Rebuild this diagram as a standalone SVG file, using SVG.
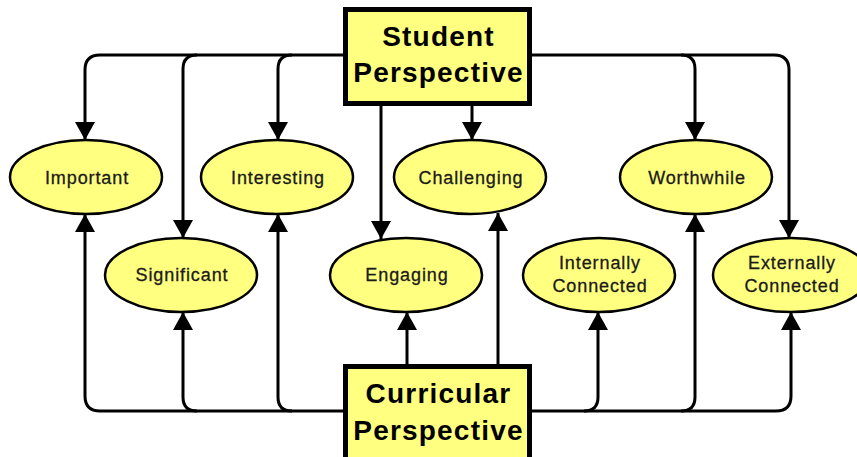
<svg xmlns="http://www.w3.org/2000/svg" width="857" height="457" viewBox="0 0 857 457">
<style>
.box{fill:#ffff80;stroke:#000;stroke-width:5}
.ell{fill:#ffff80;stroke:#000;stroke-width:2.5}
.title{font-family:"Liberation Sans",Arial,sans-serif;font-weight:bold;font-size:28px;letter-spacing:1.2px;fill:#000;text-anchor:middle}
.lbl{font-family:"Liberation Sans",Arial,sans-serif;font-size:18px;letter-spacing:0.9px;fill:#1a1a1a;text-anchor:middle;stroke:#1a1a1a;stroke-width:0.3}
.con{fill:none;stroke:#000;stroke-width:3;marker-end:url(#arr)}
.plain{fill:none;stroke:#000;stroke-width:3}
</style>
<defs>
<marker id="arr" viewBox="0 0 18 20" refX="18" refY="10" markerWidth="18" markerHeight="20" markerUnits="userSpaceOnUse" orient="auto">
<path d="M0,0 L18,10 L0,20 z" fill="#000"/>
</marker>
</defs>
<rect width="857" height="457" fill="#fff"/>
<g id="connectors">
<path class="plain" d="M345 55 H100"/>
<path class="con" d="M100 55 Q85 55 85 70 V140"/>
<path class="con" d="M197 55 Q183 55 183 69 V238"/>
<path class="con" d="M292 55 Q278 55 278 69 V140"/>
<path class="con" d="M381 106 V239"/>
<path class="con" d="M472 106 V140"/>
<path class="plain" d="M530 55 H774"/>
<path class="con" d="M681 55 Q695 55 695 69 V140"/>
<path class="con" d="M774 55 Q789 55 789 70 V238"/>
<path class="plain" d="M345 411 H100"/>
<path class="con" d="M100 411 Q85 411 85 396 V214"/>
<path class="con" d="M197 411 Q183 411 183 397 V312"/>
<path class="con" d="M292 411 Q278 411 278 397 V214"/>
<path class="con" d="M407 364 V312"/>
<path class="con" d="M498 364 V213"/>
<path class="plain" d="M530 411 H776"/>
<path class="con" d="M584 411 Q598 411 598 397 V312"/>
<path class="con" d="M681 411 Q695 411 695 397 V214"/>
<path class="con" d="M776 411 Q791 411 791 396 V312"/>
</g>
<g id="student">
<rect class="box" x="345.5" y="9.5" width="184" height="94"/>
<text class="title" x="438.5" y="46">Student</text>
<text class="title" x="438.5" y="82">Perspective</text>
</g>
<g id="curricular">
<rect class="box" x="345.5" y="366.5" width="184" height="96"/>
<text class="title" x="438.5" y="403">Curricular</text>
<text class="title" x="438.5" y="440">Perspective</text>
</g>
<g id="important">
<ellipse class="ell" cx="86" cy="177" rx="76" ry="37"/>
<text class="lbl" x="87" y="184">Important</text>
</g>
<g id="interesting">
<ellipse class="ell" cx="277" cy="177" rx="76" ry="37"/>
<text class="lbl" x="278" y="184">Interesting</text>
</g>
<g id="challenging">
<ellipse class="ell" cx="470" cy="177" rx="76" ry="37"/>
<text class="lbl" x="471" y="184">Challenging</text>
</g>
<g id="worthwhile">
<ellipse class="ell" cx="696" cy="177" rx="76" ry="37"/>
<text class="lbl" x="697" y="184">Worthwhile</text>
</g>
<g id="significant">
<ellipse class="ell" cx="181" cy="275" rx="76" ry="37"/>
<text class="lbl" x="182" y="281">Significant</text>
</g>
<g id="engaging">
<ellipse class="ell" cx="406" cy="275" rx="76" ry="37"/>
<text class="lbl" x="407" y="281">Engaging</text>
</g>
<g id="internally">
<ellipse class="ell" cx="599" cy="275" rx="76" ry="37"/>
<text class="lbl" x="600" y="269">Internally</text>
<text class="lbl" x="600" y="292">Connected</text>
</g>
<g id="externally">
<ellipse class="ell" cx="791" cy="275" rx="78" ry="37"/>
<text class="lbl" x="792" y="269">Externally</text>
<text class="lbl" x="792" y="292">Connected</text>
</g>
</svg>
